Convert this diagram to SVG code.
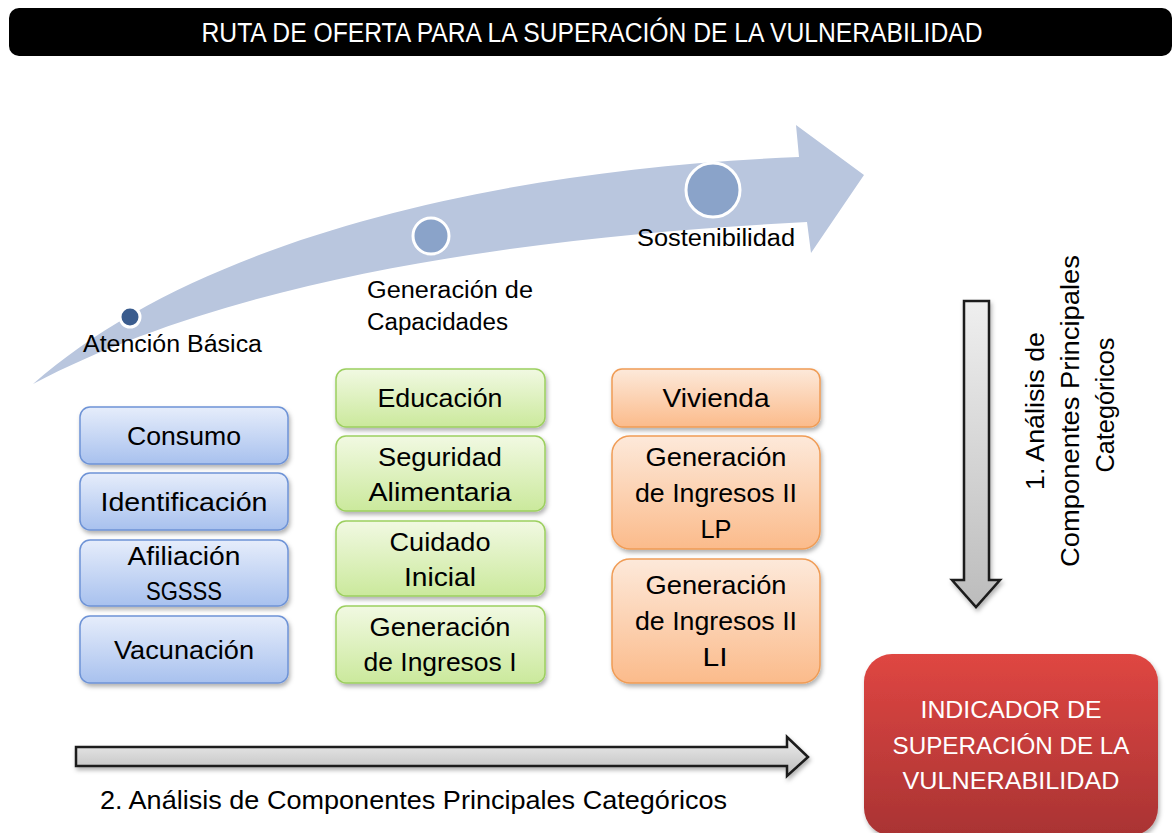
<svg xmlns="http://www.w3.org/2000/svg" width="1176" height="833" viewBox="0 0 1176 833">
<defs>
<linearGradient id="gBlue" x1="0" y1="0" x2="0" y2="1"><stop offset="0" stop-color="#e6edfb"/><stop offset="1" stop-color="#a8c1ee"/></linearGradient>
<linearGradient id="gGreen" x1="0" y1="0" x2="0" y2="1"><stop offset="0" stop-color="#f1f9e2"/><stop offset="1" stop-color="#cbe99c"/></linearGradient>
<linearGradient id="gOrange" x1="0" y1="0" x2="0" y2="1"><stop offset="0" stop-color="#fde9da"/><stop offset="1" stop-color="#fbbb8b"/></linearGradient>
<linearGradient id="gGrey" x1="0" y1="0" x2="0" y2="1"><stop offset="0" stop-color="#efefef"/><stop offset="1" stop-color="#bcbcbc"/></linearGradient>
<linearGradient id="gRed" x1="0" y1="0" x2="0" y2="1"><stop offset="0" stop-color="#df4642"/><stop offset="1" stop-color="#a93333"/></linearGradient>
<filter id="sh" x="-10%" y="-10%" width="130%" height="140%"><feDropShadow dx="1.5" dy="3" stdDeviation="2" flood-color="#000" flood-opacity="0.3"/></filter>
<style>
.t{font-family:"Liberation Sans",Arial,sans-serif;fill:#000;text-anchor:middle}
.bx{font-size:26px}
.lb{font-size:23px;text-anchor:start}
.w{fill:#fff}
.blue{fill:url(#gBlue);stroke:#6e93d6;stroke-width:1.5;filter:url(#sh)}
.green{fill:url(#gGreen);stroke:#9ccf5f;stroke-width:1.5;filter:url(#sh)}
.orange{fill:url(#gOrange);stroke:#f09c55;stroke-width:1.5;filter:url(#sh)}
.garrow{fill:url(#gGrey);stroke:#1a1a1a;stroke-width:2.5;stroke-linejoin:miter;filter:url(#sh)}
.dot{stroke:#fff;stroke-width:3}
</style>
</defs>
<rect width="1176" height="833" fill="#fff"/>

<g id="title">
<rect x="9" y="8" width="1163" height="48" rx="10" fill="#000"/>
<text class="t w" x="592" y="42" font-size="27" textLength="781" lengthAdjust="spacingAndGlyphs">RUTA DE OFERTA PARA LA SUPERACIÓN DE LA VULNERABILIDAD</text>
</g>

<g id="route-arrow">
<path d="M33,384 C190,245 480,170 799,157 L796,125 L864,175 L811,253 L807,222 C560,235 250,270 33,384 Z" fill="#b9c6de"/>
<circle cx="130" cy="317" r="10" fill="#3a5c8e" class="dot"/>
<circle cx="431" cy="236" r="18" fill="#8aa3c9" class="dot"/>
<circle cx="713" cy="190" r="27" fill="#8aa3c9" class="dot"/>
<text class="t lb" x="83" y="352" textLength="179" lengthAdjust="spacingAndGlyphs">Atención Básica</text>
<text class="t lb" x="367" y="298" textLength="166" lengthAdjust="spacingAndGlyphs">Generación de</text>
<text class="t lb" x="367" y="330" textLength="141" lengthAdjust="spacingAndGlyphs">Capacidades</text>
<text class="t lb" x="637" y="246" textLength="158" lengthAdjust="spacingAndGlyphs">Sostenibilidad</text>
</g>

<g id="consumo"><rect class="blue" x="80" y="407" width="208" height="57" rx="10"/><text class="t bx" x="184" y="445" textLength="114" lengthAdjust="spacingAndGlyphs">Consumo</text></g>
<g id="identificacion"><rect class="blue" x="80" y="473" width="208" height="57" rx="10"/><text class="t bx" x="184" y="511" textLength="167" lengthAdjust="spacingAndGlyphs">Identificación</text></g>
<g id="afiliacion"><rect class="blue" x="80" y="540" width="208" height="66" rx="10"/><text class="t bx" x="184" y="565" textLength="113" lengthAdjust="spacingAndGlyphs">Afiliación</text><text class="t bx" x="184" y="600" textLength="76" lengthAdjust="spacingAndGlyphs">SGSSS</text></g>
<g id="vacunacion"><rect class="blue" x="80" y="616" width="208" height="67" rx="10"/><text class="t bx" x="184" y="659" textLength="140" lengthAdjust="spacingAndGlyphs">Vacunación</text></g>

<g id="educacion"><rect class="green" x="336" y="369" width="209" height="58" rx="10"/><text class="t bx" x="440" y="407" textLength="125" lengthAdjust="spacingAndGlyphs">Educación</text></g>
<g id="seguridad"><rect class="green" x="336" y="436" width="209" height="75" rx="10"/><text class="t bx" x="440" y="466" textLength="124" lengthAdjust="spacingAndGlyphs">Seguridad</text><text class="t bx" x="440" y="501" textLength="143" lengthAdjust="spacingAndGlyphs">Alimentaria</text></g>
<g id="cuidado"><rect class="green" x="336" y="521" width="209" height="75" rx="10"/><text class="t bx" x="440" y="551" textLength="101" lengthAdjust="spacingAndGlyphs">Cuidado</text><text class="t bx" x="440" y="586" textLength="72" lengthAdjust="spacingAndGlyphs">Inicial</text></g>
<g id="ingresos1"><rect class="green" x="336" y="606" width="209" height="77" rx="10"/><text class="t bx" x="440" y="636" textLength="141" lengthAdjust="spacingAndGlyphs">Generación</text><text class="t bx" x="440" y="671" textLength="153" lengthAdjust="spacingAndGlyphs">de Ingresos I</text></g>

<g id="vivienda"><rect class="orange" x="612" y="369" width="208" height="58" rx="10"/><text class="t bx" x="716" y="407" textLength="107" lengthAdjust="spacingAndGlyphs">Vivienda</text></g>
<g id="ingresos2lp"><rect class="orange" x="612" y="436" width="208" height="113" rx="18"/><text class="t bx" x="716" y="466" textLength="141" lengthAdjust="spacingAndGlyphs">Generación</text><text class="t bx" x="716" y="502" textLength="162" lengthAdjust="spacingAndGlyphs">de Ingresos II</text><text class="t bx" x="716" y="538" textLength="31" lengthAdjust="spacingAndGlyphs">LP</text></g>
<g id="ingresos2li"><rect class="orange" x="612" y="559" width="208" height="124" rx="18"/><text class="t bx" x="716" y="594" textLength="141" lengthAdjust="spacingAndGlyphs">Generación</text><text class="t bx" x="716" y="630" textLength="162" lengthAdjust="spacingAndGlyphs">de Ingresos II</text><text class="t bx" x="715" y="666" textLength="25" lengthAdjust="spacingAndGlyphs">LI</text></g>

<g id="indicador">
<rect x="864" y="654" width="294" height="182" rx="28" fill="url(#gRed)" filter="url(#sh)"/>
<text class="t w" x="1011" y="718" font-size="24" textLength="181" lengthAdjust="spacingAndGlyphs">INDICADOR DE</text>
<text class="t w" x="1011" y="754" font-size="24" textLength="237" lengthAdjust="spacingAndGlyphs">SUPERACIÓN DE LA</text>
<text class="t w" x="1011" y="789" font-size="24" textLength="217" lengthAdjust="spacingAndGlyphs">VULNERABILIDAD</text>
</g>

<g id="connectors">
<path class="garrow" d="M964,301 L989,301 L989,580 L1000,580 L976,607 L952,580 L964,580 Z"/>
<path class="garrow" d="M76,747 L787,747 L787,737 L808,757 L787,776 L787,766 L76,766 Z"/>
</g>

<g id="labels">
<g transform="translate(1044,411) rotate(-90)">
<text class="t bx" x="0" y="0" textLength="158" lengthAdjust="spacingAndGlyphs">1. Análisis de</text>
</g>
<g transform="translate(1079,411) rotate(-90)">
<text class="t bx" x="0" y="0" textLength="312" lengthAdjust="spacingAndGlyphs">Componentes Principales</text>
</g>
<g transform="translate(1114,405) rotate(-90)">
<text class="t bx" x="0" y="0" textLength="135" lengthAdjust="spacingAndGlyphs">Categóricos</text>
</g>
<text class="t bx" x="100" y="809" style="text-anchor:start" font-size="26" textLength="627" lengthAdjust="spacingAndGlyphs">2. Análisis de Componentes Principales Categóricos</text>
</g>
</svg>
